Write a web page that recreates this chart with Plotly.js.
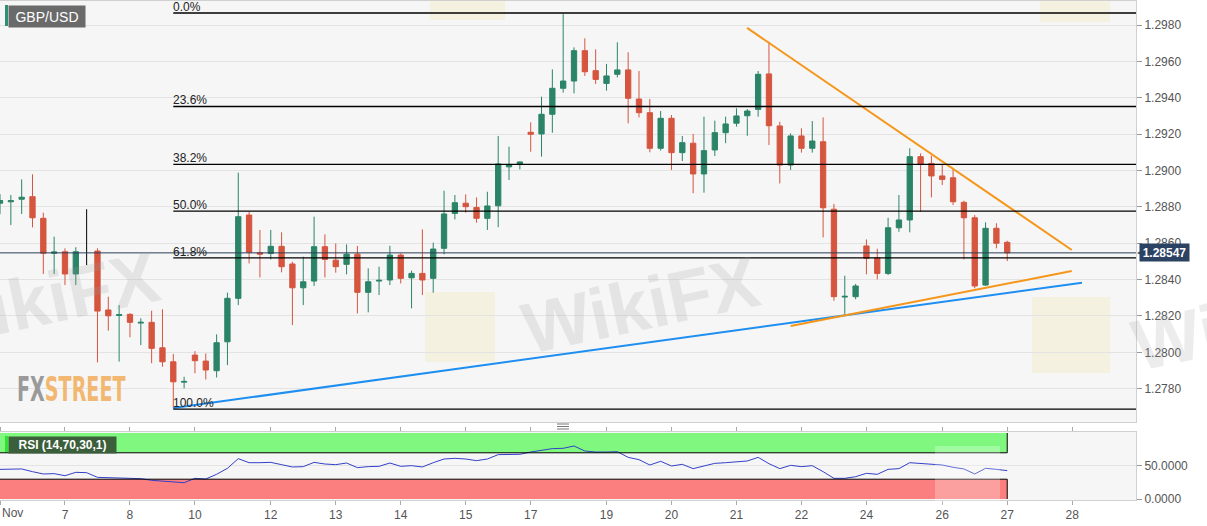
<!DOCTYPE html>
<html><head><meta charset="utf-8">
<script src="https://cdn.plot.ly/plotly-3.0.1.min.js"></script>
<style>html,body{margin:0;padding:0;background:#fff;}#chart{width:1207px;height:526px;}</style>
</head><body><div id="chart"></div>
<script>
// ---- DATA (4-hour GBP/USD candles, index = candle number) ----
const openP = [1.28820,1.28828,1.28842,1.28856,1.28737,1.28545,1.28553,1.28431,1.28550,1.28557,
 1.28233,1.28203,1.28209,1.28161,1.28165,1.28025,1.27948,1.27836,1.27985,1.27952,
 1.27899,1.28058,1.28297,1.28755,1.28548,1.28544,1.28583,1.28486,1.28355,1.28392,
 1.28581,1.28507,1.28484,1.28540,1.28330,1.28392,1.28398,1.28535,1.28410,1.28434,
 1.28407,1.28572,1.28764,1.28820,1.28797,1.28737,1.28806,1.29020,1.29036,1.29210,
 1.29201,1.29309,1.29452,1.29492,1.29659,1.29549,1.29479,1.29529,1.29553,1.29393,
 1.29318,1.29122,1.29287,1.29098,1.29150,1.28981,1.29113,1.29208,1.29260,1.29301,
 1.29336,1.29531,1.29245,1.29030,1.29190,1.29122,1.29158,1.28787,1.28304,1.28306,
 1.28585,1.28520,1.28434,1.28685,1.28728,1.29076,1.29039,1.28970,1.28960,1.28825,
 1.28740,1.28370,1.28682,1.28605];
const highP = [1.28870,1.28865,1.28951,1.28979,1.28768,1.28636,1.28572,1.28578,1.28787,1.28572,
 1.28306,1.28260,1.28215,1.28187,1.28229,1.28237,1.27991,1.27866,1.28007,1.27994,
 1.28099,1.28328,1.28988,1.28773,1.28673,1.28673,1.28660,1.28498,1.28526,1.28746,
 1.28649,1.28599,1.28594,1.28585,1.28462,1.28471,1.28586,1.28544,1.28449,1.28676,
 1.28603,1.28889,1.28865,1.28869,1.28852,1.28883,1.29190,1.29131,1.29050,1.29265,
 1.29406,1.29556,1.29860,1.29677,1.29727,1.29666,1.29586,1.29705,1.29650,1.29547,
 1.29393,1.29327,1.29305,1.29190,1.29201,1.29296,1.29274,1.29296,1.29342,1.29338,
 1.29547,1.29708,1.29268,1.29204,1.29232,1.29272,1.29292,1.28816,1.28421,1.28376,
 1.28621,1.28570,1.28740,1.28865,1.29122,1.29094,1.29081,1.29034,1.29008,1.28834,
 1.28755,1.28715,1.28710,1.28614];
const lowP = [1.28760,1.28700,1.28761,1.28687,1.28431,1.28431,1.28370,1.28370,1.28480,1.27945,
 1.28119,1.27949,1.28083,1.28040,1.27940,1.27921,1.27692,1.27802,1.27885,1.27851,
 1.27862,1.27930,1.28260,1.28489,1.28412,1.28511,1.28440,1.28150,1.28260,1.28365,
 1.28412,1.28438,1.28429,1.28214,1.28220,1.28315,1.28370,1.28379,1.28242,1.28315,
 1.28328,1.28539,1.28731,1.28768,1.28713,1.28673,1.28688,1.28948,1.29006,1.29103,
 1.29076,1.29208,1.29428,1.29424,1.29520,1.29476,1.29439,1.29512,1.29259,1.29292,
 1.29100,1.29109,1.29003,1.29052,1.28875,1.28878,1.29080,1.29150,1.29241,1.29191,
 1.29296,1.29140,1.28929,1.29003,1.29098,1.29098,1.28632,1.28284,1.28211,1.28292,
 1.28429,1.28401,1.28425,1.28663,1.28660,1.28773,1.28852,1.28920,1.28810,1.28511,
 1.28352,1.28365,1.28572,1.28502];
const closeP = [1.28835,1.28834,1.28853,1.28740,1.28545,1.28552,1.28431,1.28553,1.28550,1.28227,
 1.28201,1.28207,1.28165,1.28165,1.28022,1.27948,1.27838,1.27840,1.27954,1.27903,
 1.28053,1.28297,1.28746,1.28550,1.28540,1.28583,1.28471,1.28355,1.28388,1.28581,
 1.28511,1.28471,1.28540,1.28330,1.28388,1.28396,1.28535,1.28407,1.28434,1.28398,
 1.28568,1.28761,1.28823,1.28801,1.28737,1.28805,1.29036,1.29030,1.29047,1.29199,
 1.29309,1.29452,1.29492,1.29659,1.29543,1.29501,1.29520,1.29553,1.29397,1.29318,
 1.29122,1.29287,1.29098,1.29153,1.28981,1.29109,1.29208,1.29256,1.29300,1.29327,
 1.29529,1.29246,1.29030,1.29190,1.29122,1.29162,1.28795,1.28306,1.28308,1.28365,
 1.28517,1.28434,1.28685,1.28728,1.29076,1.29036,1.28970,1.28951,1.28828,1.28740,
 1.28365,1.28682,1.28600,1.28547];
const rsiVals = [44.9,45.2,45.5,41.4,37.9,38.4,35.3,40.4,39.9,32.8,
 32.3,32.3,31.3,30.8,28.3,27.3,25.2,24.7,31.3,30.3,
 37.4,46.5,61.1,55.0,55.0,55.5,52.0,48.5,49.0,55.5,
 53.0,52.0,54.5,47.5,49.0,49.5,54.5,49.5,50.5,48.5,
 55.0,60.6,61.6,60.6,58.1,60.6,67.2,67.2,67.7,71.2,
 74.2,76.3,76.8,80.3,72.7,71.2,71.2,71.7,63.1,59.6,
 51.5,57.1,50.0,52.5,46.0,50.5,54.0,55.0,56.0,57.6,
 63.1,53.5,46.0,51.0,49.0,50.5,41.4,31.3,31.3,33.8,
 38.9,37.4,44.9,46.0,55.0,53.5,52.0,51.5,48.0,45.5,
 37.9,46.5,44.9,43.0];
const dojiIdx = [8];
const tickIdx = [0,6,12,18,25,31,37,43,49,56,62,68,74,80,87,93,99];
const tickText = ['Nov','7','8','10','12','13','14','15','17','19','20','21','22','24','26','27','28'];
const priceTicks = [1.2780,1.2800,1.2820,1.2840,1.2860,1.2880,1.2900,1.2920,1.2940,1.2960,1.2980];
const fibHigh = 1.29866, fibLow = 1.27688, fibStartIdx = 16;
const fibRatios = [0, 0.236, 0.382, 0.5, 0.618, 1];
const fibLabels = ['0.0%','23.6%','38.2%','50.0%','61.8%','100.0%'];
const blueLineX = [16, 99.9], blueLineY = [1.27694, 1.28383];
const orangeLowX = [73, 98.96], orangeLowY = [1.28145, 1.28447];
const orangeHighX = [68.98, 98.96], orangeHighY = [1.29784, 1.28563];
const lastPrice = 1.28547;
const rsiUpper = 70, rsiLower = 30, rsiMax = 100, rsiMin = 0;

// ---- STYLE ----
const FONT = 'Liberation Sans, Arial, sans-serif';
const GREEN = '#2b8468', RED = '#d5553f';
const XMAX = 104.89;
const PLOTW = 1136, TOP = 1, BOT = 500, PH = 499;
const PX = x => x / PLOTW;
const PY = y => (BOT - y) / PH;

const idx = openP.map((_, i) => i);
const mainIdx = idx.filter(i => !dojiIdx.includes(i));
const lastIdx = closeP.length - 1;

const traces = [
  {type:'candlestick', x: mainIdx, open: mainIdx.map(i=>openP[i]), high: mainIdx.map(i=>highP[i]),
   low: mainIdx.map(i=>lowP[i]), close: mainIdx.map(i=>closeP[i]), xaxis:'x', yaxis:'y',
   increasing:{line:{color:GREEN,width:1}, fillcolor:GREEN},
   decreasing:{line:{color:RED,width:1}, fillcolor:RED},
   whiskerwidth:0, hoverinfo:'skip', showlegend:false}
];
dojiIdx.forEach(i => traces.push({type:'scatter', mode:'lines', x:[i,i], y:[lowP[i], highP[i]],
  line:{color:'#000', width:1}, xaxis:'x', yaxis:'y', hoverinfo:'skip', showlegend:false}));
traces.push({type:'scatter', mode:'lines', x: blueLineX, y: blueLineY, line:{color:'#1e8ff0', width:2}, xaxis:'x', yaxis:'y', hoverinfo:'skip'});
traces.push({type:'scatter', mode:'lines', x: orangeLowX, y: orangeLowY, line:{color:'#f5961a', width:2}, xaxis:'x', yaxis:'y', hoverinfo:'skip'});
traces.push({type:'scatter', mode:'lines', x: orangeHighX, y: orangeHighY, line:{color:'#f5961a', width:2}, xaxis:'x', yaxis:'y', hoverinfo:'skip'});
traces.push({type:'scatter', mode:'lines', x: idx, y: rsiVals, line:{color:'#3340c8', width:1}, xaxis:'x', yaxis:'y2', hoverinfo:'skip'});

const shapes = [];
// RSI zones
shapes.push({type:'rect', xref:'x', yref:'y2', x0:0, x1:lastIdx, y0:rsiUpper, y1:rsiMax, fillcolor:'#80f880', line:{width:0}, layer:'below'});
shapes.push({type:'rect', xref:'x', yref:'y2', x0:0, x1:lastIdx, y0:rsiMin, y1:rsiLower, fillcolor:'#fb7f7f', line:{width:0}, layer:'below'});
shapes.push({type:'line', xref:'x', yref:'y2', x0:0, x1:lastIdx, y0:rsiUpper, y1:rsiUpper, line:{color:'#000', width:1}});
shapes.push({type:'line', xref:'x', yref:'y2', x0:0, x1:lastIdx, y0:rsiLower, y1:rsiLower, line:{color:'#000', width:1}});
shapes.push({type:'line', xref:'x', yref:'y2', x0:lastIdx, x1:lastIdx, y0:rsiUpper, y1:rsiMax, line:{color:'#000', width:1}});
shapes.push({type:'line', xref:'x', yref:'y2', x0:lastIdx, x1:lastIdx, y0:rsiMin, y1:rsiLower, line:{color:'#000', width:1}});
// Fibonacci levels
const annotations = [];
fibRatios.forEach((r, k) => {
  const lvl = fibHigh - r * (fibHigh - fibLow);
  shapes.push({type:'line', xref:'x', yref:'y', x0:fibStartIdx, x1:XMAX, y0:lvl, y1:lvl, line:{color:'#000', width:1.3}});
  annotations.push({xref:'x', yref:'y', x:fibStartIdx, y:lvl, text:fibLabels[k], showarrow:false, borderpad:0,
    xanchor:'left', yanchor:'bottom', xshift:-1, yshift:-2, font:{family:FONT, size:12, color:'#222'}});
});
// current price line
shapes.push({type:'line', xref:'x', yref:'y', x0:0, x1:XMAX, y0:lastPrice, y1:lastPrice, line:{color:'#2c3e58', width:1}});

// decorations (pixel placed)
const logoFill = 'rgba(243,222,150,0.22)';
[[425,292,495,362],[1032,297,1110,373],[430,-10,505,20],[1040,-10,1110,22]].forEach(b => {
  shapes.push({type:'rect', xref:'paper', yref:'paper', x0:PX(b[0]), x1:PX(b[2]), y0:PY(b[3]), y1:PY(b[1]), fillcolor:logoFill, line:{width:0}, layer:'below'});
});
shapes.push({type:'rect', xref:'paper', yref:'paper', x0:PX(935), x1:PX(1000), y0:PY(510), y1:PY(446), fillcolor:'rgba(255,255,255,0.25)', line:{width:0}, layer:'above'});
shapes.push({type:'rect', xref:'paper', yref:'paper', x0:PX(5), x1:PX(8), y0:PY(26), y1:PY(5), fillcolor:'#2f8f73', line:{width:0}});
shapes.push({type:'rect', xref:'paper', yref:'paper', x0:PX(5), x1:PX(8), y0:PY(452), y1:PY(436), fillcolor:'#33e033', line:{width:0}});
[424, 426.5, 429].forEach(y => shapes.push({type:'line', xref:'paper', yref:'paper', x0:PX(557), x1:PX(569), y0:PY(y), y1:PY(y), line:{color:'#777', width:1}}));

// watermarks
[[40,300],[640,305],[1250,322]].forEach(p => annotations.push({xref:'paper', yref:'paper', x:PX(p[0]), y:PY(p[1]), text:'<b>WikiFX</b>', showarrow:false,
  textangle:-12, font:{family:FONT, size:72, color:'rgba(160,160,160,0.2)'}, xanchor:'center', yanchor:'middle'}));
annotations.push({xref:'paper', yref:'paper', x:PX(15), y:PY(389), xanchor:'left', yanchor:'middle', showarrow:false,
  text:'<b><span style="color:#9a9a9a">FX</span><span style="color:#f2b872">STREET</span></b>',
  font:{family:'DejaVu Sans Condensed, Liberation Sans Narrow, Arial Narrow, sans-serif', size:33}});
// title box
annotations.push({xref:'paper', yref:'paper', x:PX(8), y:PY(5), xanchor:'left', yanchor:'top', showarrow:false,
  text:'GBP/USD', width:76, height:21, borderpad:0, bgcolor:'#6a6a6a', font:{family:FONT, size:14, color:'#fff'}});
// RSI label
annotations.push({xref:'paper', yref:'paper', x:PX(8), y:PY(436), xanchor:'left', yanchor:'top', showarrow:false,
  text:'<b>RSI (14,70,30,1)</b>', width:107, height:16, borderpad:0, bgcolor:'#3b5e3b', font:{family:FONT, size:12, color:'#fff'}});
// last price label
annotations.push({xref:'paper', yref:'y', x:1, y:lastPrice, xanchor:'left', yanchor:'middle', xshift:3, showarrow:false,
  text:'<b>' + lastPrice.toFixed(5) + '</b>', width:47, height:15, borderpad:1, bgcolor:'#2b4262', font:{family:FONT, size:12, color:'#fff'}});
annotations.push({xref:'paper', yref:'y', x:1, y:lastPrice, xanchor:'left', yanchor:'middle', xshift:-1, showarrow:false,
  text:'◀', font:{size:8, color:'#2b4262'}});
// first x label
annotations.push({xref:'paper', yref:'paper', x:0, y:PY(513), xanchor:'left', yanchor:'middle', showarrow:false,
  text:tickText[0], font:{family:FONT, size:12, color:'#555'}});

const layout = {
  width:1207, height:526,
  margin:{l:0, r:71, t:TOP, b:26},
  paper_bgcolor:'#ffffff', plot_bgcolor:'#f6f6f6',
  showlegend:false,
  font:{family:FONT, size:12, color:'#555'},
  xaxis:{domain:[0,1], anchor:'y2', range:[0, XMAX], tickmode:'array', tickvals: tickIdx,
    ticktext: tickText.map((t,k)=> k===0 ? '' : t), ticks:'outside', ticklen:4, tickcolor:'#aaa',
    showgrid:false, zeroline:false, showline:true, linecolor:'#d0d0d0', mirror:'all',
    rangeslider:{visible:false}, tickfont:{family:FONT, size:12, color:'#555'}},
  yaxis:{domain:[(BOT-422)/PH, 1], anchor:'x', side:'right', range:[1.27617, 1.29932], tickmode:'array',
    tickvals: priceTicks, tickformat:'.4f', ticks:'outside', ticklen:5, tickcolor:'#999',
    gridcolor:'#e3e3e3', showline:true, linecolor:'#d0d0d0', mirror:true, zeroline:false,
    tickfont:{family:FONT, size:12, color:'#555'}},
  yaxis2:{domain:[0, (BOT-432)/PH], anchor:'x', side:'right', range:[-1.52, 101.5], tickmode:'array',
    tickvals:[0,50], ticktext:['0.0000','50.0000'], ticks:'outside', ticklen:5, tickcolor:'#999',
    gridcolor:'#e3e3e3', showline:true, linecolor:'#d0d0d0', mirror:true, zeroline:false,
    tickfont:{family:FONT, size:12, color:'#555'}},
  shapes: shapes,
  annotations: annotations
};
Plotly.newPlot('chart', traces, layout, {staticPlot:true, displayModeBar:false}).then(() => {
  // squeeze the FXSTREET logo text horizontally to its condensed look
  document.querySelectorAll('#chart .annotation-text').forEach(t => {
    if (t.textContent === 'FXSTREET') {
      const bb = t.getBBox();
      const s = Math.min(1, 109 / bb.width);
      const x0 = bb.x;
      t.setAttribute('transform', 'translate(' + x0 + ',0) scale(' + s + ',1) translate(' + (-x0) + ',0)');
    }
  });
});
</script></body></html>
